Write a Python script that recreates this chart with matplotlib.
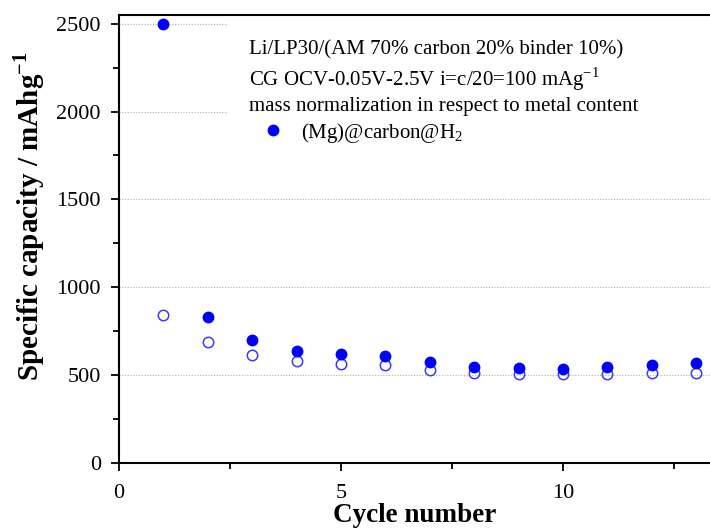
import matplotlib
matplotlib.use('Agg')
import matplotlib.pyplot as plt
from matplotlib.ticker import MultipleLocator

# capacity data
cycles = [1, 2, 3, 4, 5, 6, 7, 8, 9, 10, 11, 12, 13]
discharge = [2500, 829, 702, 635, 622, 607, 577, 548, 539, 535, 544, 556, 569]
charge = [844, 686, 616, 580, 565, 556, 531, 514, 505, 505, 505, 512, 510]

plt.rcParams['font.family'] = ['Liberation Serif', 'DejaVu Serif']
plt.rcParams['mathtext.fontset'] = 'custom'
plt.rcParams['mathtext.rm'] = 'Liberation Serif'
plt.rcParams['mathtext.bf'] = 'Liberation Serif:bold'

fig = plt.figure(figsize=(7.1, 5.31), dpi=100)
ax = fig.add_axes([0.1676, 0.128, 1 - 0.1676, 0.844])

ax.plot(cycles, charge, 'o', ms=7.5, mfc='none', mec='#3a3aff', mew=1.1, zorder=3)
ax.plot(cycles, discharge, 'o', ms=7.5, color='#0000ff', zorder=3,
        label=r'(Mg)@carbon@H$_2$')

ax.set_xlim(0, 13.31)
ax.set_ylim(0, 2550)
ax.xaxis.set_major_locator(MultipleLocator(5))
ax.xaxis.set_minor_locator(MultipleLocator(2.5))
ax.yaxis.set_major_locator(MultipleLocator(500))
ax.yaxis.set_minor_locator(MultipleLocator(250))
ax.tick_params(which='major', direction='out', length=6, width=1.3, labelsize=16)
ax.tick_params(axis='y', which='major', pad=7)
ax.tick_params(axis='x', which='major', pad=9)
ax.tick_params(which='minor', direction='out', length=4, width=1.3)
ax.spines['right'].set_visible(False)
for s in ['left', 'bottom', 'top']:
    ax.spines[s].set_linewidth(1.5)

ax.grid(axis='y', which='major', linestyle=(0, (1, 1.5)), color='#b0b0b0', lw=0.8)
ax.set_axisbelow(True)

ax.set_xlabel('Cycle number', fontsize=19.5, fontweight='bold', labelpad=0)
ax.set_ylabel(r'Specific capacity / mAhg$^{\mathbf{-1}}$', fontsize=21,
              fontweight='bold')
ax.yaxis.set_label_coords(-0.122, 0.551)

leg = ax.legend(loc='upper left', bbox_to_anchor=(0.185, 0.0, 0.815, 0.99),
                mode='expand',
                title='Li/LP30/(AM 70% carbon 20% binder 10%)\n'
                      'CG OCV-0.05V-2.5V i=c/20=100 mAg$^{-1}$\n'
                      'mass normalization in respect to metal content',
                fontsize=15, title_fontsize=15, frameon=True, framealpha=1,
                edgecolor='none', facecolor='white', handletextpad=0.2,
                handlelength=2.3, borderpad=1.0, labelspacing=0.2,
                borderaxespad=0.0, fancybox=False)
leg._legend_box.align = 'left'
leg.get_title().set_linespacing(1.3)
leg.set_zorder(2)

fig.savefig('out.png', dpi=100)
